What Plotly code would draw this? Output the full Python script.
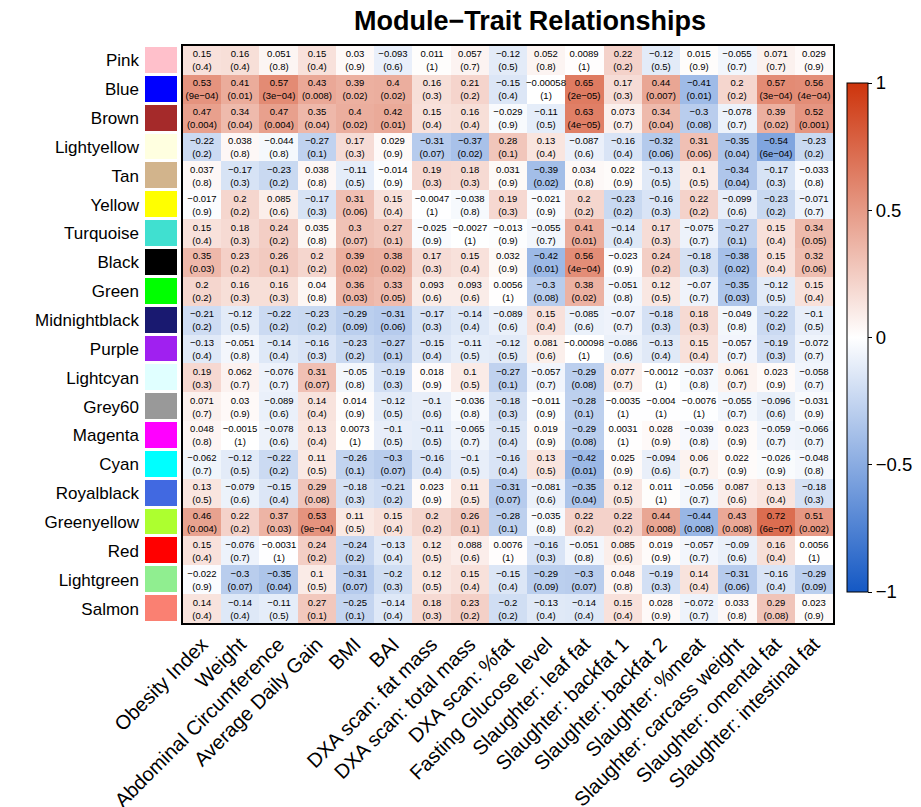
import plotly.graph_objects as go

traits = ["Obesity Index", "Weight", "Abdominal Circumference", "Average Daily Gain", "BMI", "BAI",
          "DXA scan: fat mass", "DXA scan: total mass", "DXA scan: %fat", "Fasting Glucose level",
          "Slaughter: leaf fat", "Slaughter: backfat 1", "Slaughter: backfat 2", "Slaughter: %meat",
          "Slaughter: carcass weight", "Slaughter: omental fat", "Slaughter: intestinal fat"]

modules = ["Pink", "Blue", "Brown", "Lightyellow", "Tan", "Yellow", "Turquoise", "Black", "Green",
           "Midnightblack", "Purple", "Lightcyan", "Grey60", "Magenta", "Cyan", "Royalblack",
           "Greenyellow", "Red", "Lightgreen", "Salmon"]

module_colors = ["#FFC0CB", "#0000FF", "#A52A2A", "#FFFFE0", "#D2B48C", "#FFFF00", "#40E0D0", "#000000",
                 "#00FF00", "#191970", "#A020F0", "#E0FFFF", "#999999", "#FF00FF", "#00FFFF", "#4169E1",
                 "#ADFF2F", "#FF0000", "#90EE90", "#FA8072"]

cor = [
    [0.15, 0.16, 0.051, 0.15, 0.03, -0.093, 0.011, 0.057, -0.12, 0.052, 0.0089, 0.22, -0.12, 0.015, -0.055, 0.071, 0.029],
    [0.53, 0.41, 0.57, 0.43, 0.39, 0.4, 0.16, 0.21, -0.15, -0.00058, 0.65, 0.17, 0.44, -0.41, 0.2, 0.57, 0.56],
    [0.47, 0.34, 0.47, 0.35, 0.4, 0.42, 0.15, 0.16, -0.029, -0.11, 0.63, 0.073, 0.34, -0.3, -0.078, 0.39, 0.52],
    [-0.22, 0.038, -0.044, -0.27, 0.17, 0.029, -0.31, -0.37, 0.28, 0.13, -0.087, -0.16, -0.32, 0.31, -0.35, -0.54, -0.23],
    [0.037, -0.17, -0.23, 0.038, -0.11, -0.014, 0.19, 0.18, 0.031, -0.39, 0.034, 0.022, -0.13, 0.1, -0.34, -0.17, -0.033],
    [-0.017, 0.2, 0.085, -0.17, 0.31, 0.15, -0.0047, -0.038, 0.19, -0.021, 0.2, -0.23, -0.16, 0.22, -0.099, -0.23, -0.071],
    [0.15, 0.18, 0.24, 0.035, 0.3, 0.27, -0.025, -0.0027, -0.013, -0.055, 0.41, -0.14, 0.17, -0.075, -0.27, 0.15, 0.34],
    [0.35, 0.23, 0.26, 0.2, 0.39, 0.38, 0.17, 0.15, 0.032, -0.42, 0.56, -0.023, 0.24, -0.18, -0.38, 0.15, 0.32],
    [0.2, 0.16, 0.16, 0.04, 0.36, 0.33, 0.093, 0.093, 0.0056, -0.3, 0.38, -0.051, 0.12, -0.07, -0.35, -0.12, 0.15],
    [-0.21, -0.12, -0.22, -0.23, -0.29, -0.31, -0.17, -0.14, -0.089, 0.15, -0.085, -0.07, -0.18, 0.18, -0.049, -0.22, -0.1],
    [-0.13, -0.051, -0.14, -0.16, -0.23, -0.27, -0.15, -0.11, -0.12, 0.081, -0.00098, -0.086, -0.13, 0.15, -0.057, -0.19, -0.072],
    [0.19, 0.062, -0.076, 0.31, -0.05, -0.19, 0.018, 0.1, -0.27, -0.057, -0.29, 0.077, -0.0012, -0.037, 0.061, 0.023, -0.058],
    [0.071, 0.03, -0.089, 0.14, 0.014, -0.12, -0.1, -0.036, -0.18, -0.011, -0.28, -0.0035, -0.004, -0.0076, -0.055, -0.096, -0.031],
    [0.048, -0.0015, -0.078, 0.13, 0.0073, -0.1, -0.11, -0.065, -0.15, 0.019, -0.29, 0.0031, 0.028, -0.039, 0.023, -0.059, -0.066],
    [-0.062, -0.12, -0.22, 0.11, -0.26, -0.3, -0.16, -0.1, -0.16, 0.13, -0.42, 0.025, -0.094, 0.06, 0.022, -0.026, -0.048],
    [0.13, -0.079, -0.15, 0.29, -0.18, -0.21, 0.023, 0.11, -0.31, -0.081, -0.35, 0.12, 0.011, -0.056, 0.087, 0.13, -0.18],
    [0.46, 0.22, 0.37, 0.53, 0.11, 0.15, 0.2, 0.26, -0.28, -0.035, 0.22, 0.22, 0.44, -0.44, 0.43, 0.72, 0.51],
    [0.15, -0.076, -0.0031, 0.24, -0.24, -0.13, 0.12, 0.088, 0.0076, -0.16, -0.051, 0.085, 0.019, -0.057, -0.09, 0.16, 0.0056],
    [-0.022, -0.3, -0.35, 0.1, -0.31, -0.2, 0.12, 0.15, -0.15, -0.29, -0.3, 0.048, -0.19, 0.14, -0.31, -0.16, -0.29],
    [0.14, -0.14, -0.11, 0.27, -0.25, -0.14, 0.18, 0.23, -0.2, -0.13, -0.14, 0.15, 0.028, -0.072, 0.033, 0.29, 0.023],
]

pval = [
    [0.4, 0.4, 0.8, 0.4, 0.9, 0.6, 1, 0.7, 0.5, 0.8, 1, 0.2, 0.5, 0.9, 0.7, 0.7, 0.9],
    [9e-04, 0.01, 3e-04, 0.008, 0.02, 0.02, 0.3, 0.2, 0.4, 1, 2e-05, 0.3, 0.007, 0.01, 0.2, 3e-04, 4e-04],
    [0.004, 0.04, 0.004, 0.04, 0.02, 0.01, 0.4, 0.4, 0.9, 0.5, 4e-05, 0.7, 0.04, 0.08, 0.7, 0.02, 0.001],
    [0.2, 0.8, 0.8, 0.1, 0.3, 0.9, 0.07, 0.02, 0.1, 0.4, 0.6, 0.4, 0.06, 0.06, 0.04, 6e-04, 0.2],
    [0.8, 0.3, 0.2, 0.8, 0.5, 0.9, 0.3, 0.3, 0.9, 0.02, 0.8, 0.9, 0.5, 0.5, 0.04, 0.3, 0.8],
    [0.9, 0.2, 0.6, 0.3, 0.06, 0.4, 1, 0.8, 0.3, 0.9, 0.2, 0.2, 0.3, 0.2, 0.6, 0.2, 0.7],
    [0.4, 0.3, 0.2, 0.8, 0.07, 0.1, 0.9, 1, 0.9, 0.7, 0.01, 0.4, 0.3, 0.7, 0.1, 0.4, 0.05],
    [0.03, 0.2, 0.1, 0.2, 0.02, 0.02, 0.3, 0.4, 0.9, 0.01, 4e-04, 0.9, 0.2, 0.3, 0.02, 0.4, 0.06],
    [0.2, 0.3, 0.3, 0.8, 0.03, 0.05, 0.6, 0.6, 1, 0.08, 0.02, 0.8, 0.5, 0.7, 0.03, 0.5, 0.4],
    [0.2, 0.5, 0.2, 0.2, 0.09, 0.06, 0.3, 0.4, 0.6, 0.4, 0.6, 0.7, 0.3, 0.3, 0.8, 0.2, 0.5],
    [0.4, 0.8, 0.4, 0.3, 0.2, 0.1, 0.4, 0.5, 0.5, 0.6, 1, 0.6, 0.4, 0.4, 0.7, 0.3, 0.7],
    [0.3, 0.7, 0.7, 0.07, 0.8, 0.3, 0.9, 0.5, 0.1, 0.7, 0.08, 0.7, 1, 0.8, 0.7, 0.9, 0.7],
    [0.7, 0.9, 0.6, 0.4, 0.9, 0.5, 0.6, 0.8, 0.3, 0.9, 0.1, 1, 1, 1, 0.7, 0.6, 0.9],
    [0.8, 1, 0.6, 0.4, 1, 0.5, 0.5, 0.7, 0.4, 0.9, 0.08, 1, 0.9, 0.8, 0.9, 0.7, 0.7],
    [0.7, 0.5, 0.2, 0.5, 0.1, 0.07, 0.4, 0.5, 0.4, 0.5, 0.01, 0.9, 0.6, 0.7, 0.9, 0.9, 0.8],
    [0.5, 0.6, 0.4, 0.08, 0.3, 0.2, 0.9, 0.5, 0.07, 0.6, 0.04, 0.5, 1, 0.7, 0.6, 0.4, 0.3],
    [0.004, 0.2, 0.03, 9e-04, 0.5, 0.4, 0.2, 0.1, 0.1, 0.8, 0.2, 0.2, 0.008, 0.008, 0.008, 6e-07, 0.002],
    [0.4, 0.7, 1, 0.2, 0.2, 0.4, 0.5, 0.6, 1, 0.3, 0.8, 0.6, 0.9, 0.7, 0.6, 0.4, 1],
    [0.9, 0.07, 0.04, 0.5, 0.07, 0.3, 0.5, 0.4, 0.4, 0.09, 0.07, 0.8, 0.3, 0.4, 0.06, 0.4, 0.09],
    [0.4, 0.4, 0.5, 0.1, 0.1, 0.4, 0.3, 0.2, 0.2, 0.4, 0.4, 0.4, 0.9, 0.7, 0.8, 0.08, 0.9],
]


def fmt_r(v):
    return str(v).replace("-", "\u2212")


def fmt_p(p):
    s = f"{p:.0e}" if p < 0.001 else f"{p:g}"
    return s.replace("-", "\u2212")


cell_text = [[f"{fmt_r(r)}<br>({fmt_p(p)})" for r, p in zip(rr, pp)] for rr, pp in zip(cor, pval)]

FONT = "Liberation Sans, Arial, sans-serif"
W, H = 921, 807
OFF = 8  # page body offset in the browser
ML, MR, MT, MB = 0, 0, 46 - OFF, H - 623 + OFF
PW, PH = W - ML - MR, H - MT - MB


def px(v):
    return (v - OFF) / PW


colorscale = [[0.0, "rgb(20,88,196)"], [0.5, "rgb(255,255,255)"], [1.0, "rgb(205,52,12)"]]

fig = go.Figure()

fig.add_trace(go.Heatmap(
    z=cor, x=traits, y=modules, text=cell_text, texttemplate="%{text}",
    textfont=dict(family=FONT, size=9.5, color="black"),
    zmin=-1, zmax=1, colorscale=colorscale, hoverinfo="skip",
    colorbar=dict(
        x=px(847), xanchor="left", y=(623 - 337.5) / PH, yanchor="middle",
        xpad=0, ypad=0,
        thickness=21, thicknessmode="pixels", len=509, lenmode="pixels",
        outlinewidth=1, outlinecolor="black",
        tickvals=[-1, -0.5, 0, 0.5, 1], ticktext=["\u22121", "\u22120.5", "0", "0.5", "1"],
        ticks="outside", ticklen=4, tickwidth=1, tickcolor="black",
        tickfont=dict(family=FONT, size=18.5, color="black"),
    ),
    xaxis="x", yaxis="y",
))

ncol = len(module_colors)
swatch_scale = [[i / (ncol - 1), c] for i, c in enumerate(module_colors)]
fig.add_trace(go.Heatmap(
    z=[[i] for i in range(ncol)], x=["module"], y=modules,
    colorscale=swatch_scale, zmin=0, zmax=ncol - 1, showscale=False,
    ygap=3, hoverinfo="skip", xaxis="x2", yaxis="y2",
))

fig.update_layout(
    width=W, height=H, margin=dict(l=ML, r=MR, t=MT, b=MB, autoexpand=False),
    paper_bgcolor="white", plot_bgcolor="white",
    font=dict(family=FONT, color="black"),
    title=dict(text="<b>Module\u2212Trait Relationships</b>", x=(530 - OFF) / W, xanchor="center",
               y=1 - (21 - OFF) / H, yanchor="middle", yref="container", xref="container",
               font=dict(family=FONT, size=27, color="black")),
    xaxis=dict(domain=[px(183), px(833)], tickangle=-45, showline=True, mirror=True,
               linecolor="black", linewidth=1.5, ticks="", showgrid=False, zeroline=False,
               automargin=False, ticklabelstandoff=0,
               tickfont=dict(family=FONT, size=20, color="black"), anchor="y"),
    yaxis=dict(domain=[0, 1], autorange="reversed", showline=True, mirror=True,
               linecolor="black", linewidth=1.5, showticklabels=False, ticks="",
               showgrid=False, zeroline=False, anchor="x", automargin=False),
    xaxis2=dict(domain=[px(145), px(177)], showticklabels=False, showgrid=False,
                zeroline=False, ticks="", anchor="y2", automargin=False),
    yaxis2=dict(domain=[0, 1], autorange="reversed", showgrid=False, zeroline=False,
                ticks="", ticklabelstandoff=5, anchor="x2", automargin=False,
                tickfont=dict(family=FONT, size=17, color="black")),
)

fig.write_html("out.html")
